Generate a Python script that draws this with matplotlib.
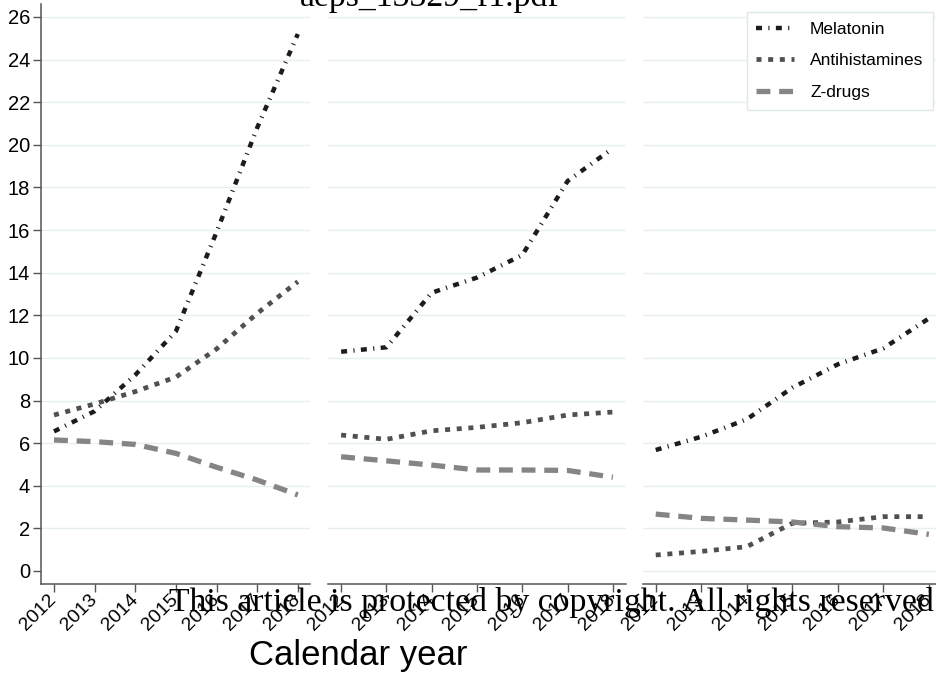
import matplotlib
matplotlib.use("Agg")
import matplotlib.pyplot as plt

plt.rcParams['font.family'] = ['Liberation Sans', 'DejaVu Sans']
plt.rcParams['lines.scale_dashes'] = False

# ---------------- data ----------------
years = [2012, 2013, 2014, 2015, 2016, 2017, 2018]
series_names = ["Melatonin", "Antihistamines", "Z-drugs"]

melatonin_p1 = [6.55, 7.5, 9.2, 11.25, 15.9, 20.8, 25.2]
antihist_p1 = [7.32, 7.84, 8.42, 9.1, 10.42, 12.09, 13.58]
zdrugs_p1 = [6.15, 6.07, 5.94, 5.52, 4.87, 4.27, 3.57]

melatonin_p2 = [10.29, 10.5, 13.06, 13.77, 14.83, 18.3, 19.84]
antihist_p2 = [6.38, 6.18, 6.58, 6.74, 6.96, 7.32, 7.46]
zdrugs_p2 = [5.36, 5.17, 4.97, 4.74, 4.74, 4.72, 4.40]

melatonin_p3 = [5.68, 6.3, 7.12, 8.6, 9.7, 10.45, 11.85]
antihist_p3 = [0.75, 0.92, 1.14, 2.24, 2.30, 2.55, 2.55]
zdrugs_p3 = [2.67, 2.47, 2.39, 2.30, 2.08, 2.02, 1.72]

yticks = [0, 2, 4, 6, 8, 10, 12, 14, 16, 18, 20, 22, 24, 26]
xlabel_text = "Calendar year"
watermark_text = "This article is protected by copyright. All rights reserved"
header_text = "aeps_13329_f1.pdf"

panels = [
    (melatonin_p1, antihist_p1, zdrugs_p1),
    (melatonin_p2, antihist_p2, zdrugs_p2),
    (melatonin_p3, antihist_p3, zdrugs_p3),
]

# ---------------- styles ----------------
W, H = 937, 696
fig = plt.figure(figsize=(W / 100, H / 100), dpi=100)
fig.patch.set_facecolor('white')

styles = [
    dict(color='#1c1c1c', lw=3.2, dashes=(4.3, 4.6, 0.8, 4.6)),
    dict(color='#505050', lw=3.4, dashes=(3.6, 4.8)),
    dict(color='#858585', lw=3.8, dashes=(10.0, 6.3)),
]

px_boxes = [(41, 310), (328, 626), (643, 937)]
xlims = [(2011.68, 2018.30), (2011.71, 2018.29), (2011.72, 2018.18)]
y_top_px, y_bot_px = 4, 583.5
ylim = (-0.587, 26.61)

grid_color = '#e8eff0'
spine_color = '#555555'

axes = []
handles = []
for i, (data, (x0, x1), xl) in enumerate(zip(panels, px_boxes, xlims)):
    ax = fig.add_axes([x0 / W, 1 - y_bot_px / H, (x1 - x0) / W, (y_bot_px - y_top_px) / H])
    ax.set_xlim(*xl)
    ax.set_ylim(*ylim)
    grid_vals = yticks if i == 2 else yticks[1:]
    for g in grid_vals:
        ax.axhline(g, color=grid_color, lw=1.0, zorder=0)
    for j, (vals, st) in enumerate(zip(data, styles)):
        ln, = ax.plot(years, vals, color=st['color'], lw=st['lw'],
                      dashes=st['dashes'], solid_capstyle='butt',
                      dash_capstyle='butt', zorder=2 + j,
                      label=series_names[j])
        if i == 2:
            handles.append(ln)
    for s in ['top', 'right']:
        ax.spines[s].set_visible(False)
    ax.spines['bottom'].set_color(spine_color)
    ax.spines['bottom'].set_linewidth(1.1)
    ax.set_xticks(years)
    ax.set_xticklabels([str(y) for y in years], rotation=45, ha='right',
                       va='center', rotation_mode='anchor', fontsize=14)
    ax.tick_params(axis='x', length=6, width=1.0, color=spine_color, pad=4)
    if i == 0:
        ax.spines['left'].set_color(spine_color)
        ax.spines['left'].set_linewidth(1.1)
        ax.set_yticks(yticks)
        ax.set_yticklabels([str(v) for v in yticks], fontsize=14.5)
        ax.tick_params(axis='y', length=6, width=1.0, color=spine_color, pad=2)
    else:
        ax.spines['left'].set_visible(False)
        ax.set_yticks([])
    ax.set_facecolor('none')
    axes.append(ax)

fig.legend(handles, series_names, loc='upper right',
           bbox_to_anchor=(933 / W, 1 - 12 / H), frameon=True, fancybox=False,
           edgecolor='#dfe8e8', framealpha=1, fontsize=12.5, handlelength=2.2,
           handletextpad=0.9, labelspacing=0.95, borderpad=0.55, borderaxespad=0)

fig.text(358 / W, 1 - 656 / H, xlabel_text, ha='center', va='center', fontsize=25)

fig.text(551 / W, 1 - 611 / H, watermark_text, ha='center', va='baseline',
         fontsize=24.3, family=['Liberation Serif', 'DejaVu Serif'], color='black', zorder=10)
fig.text(430 / W, 1 - 6 / H, header_text, ha='center', va='baseline',
         fontsize=24.3, family=['Liberation Serif', 'DejaVu Serif'], color='black', zorder=10)

fig.savefig('out.png', dpi=100, facecolor='white')
